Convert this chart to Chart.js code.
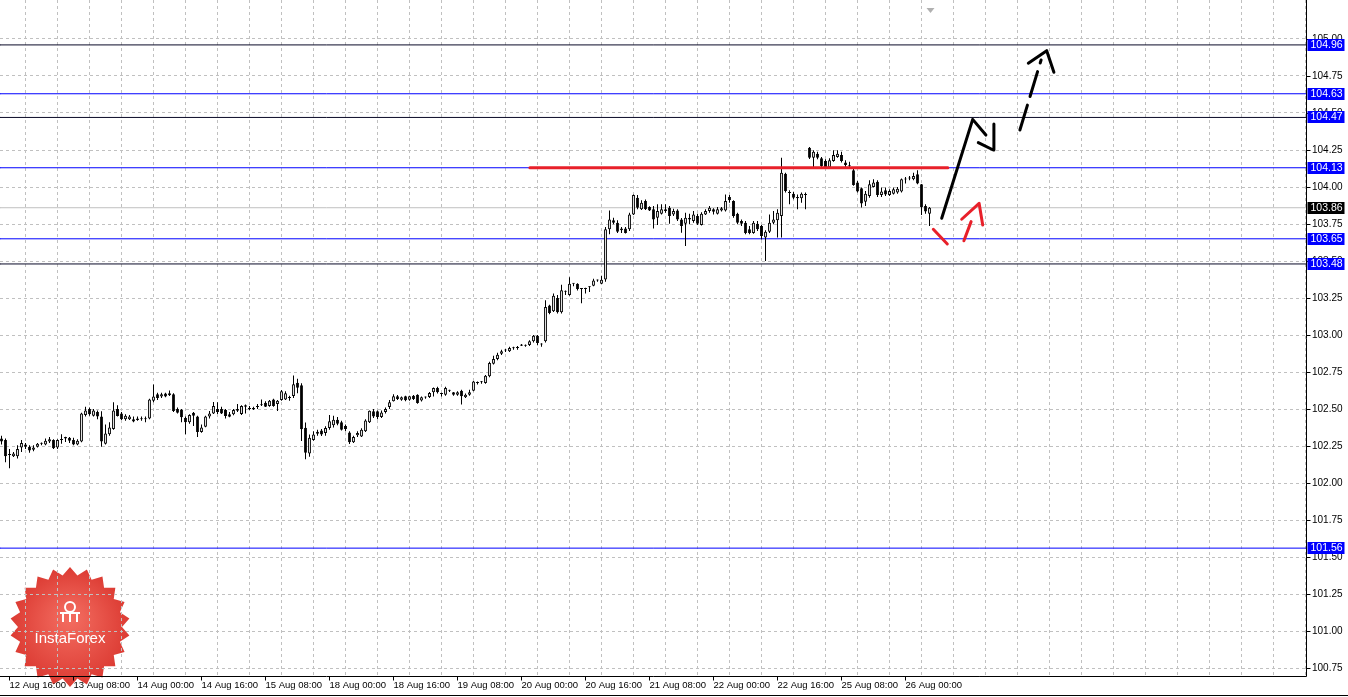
<!DOCTYPE html>
<html>
<head>
<meta charset="utf-8">
<script src="https://cdn.jsdelivr.net/npm/chart.js@4.4.1/dist/chart.umd.min.js"></script>
<style>
  html, body { margin: 0; padding: 0; background: #fff; }
  #wrap { width: 1348px; height: 697px; }
</style>
</head>
<body>
<div id="wrap"><canvas id="chart" width="1348" height="697"></canvas></div>
<script>
// H1 candles, index 0 = 12 Aug 14:00
const opens = [102.30,102.29,102.195,102.18,102.18,102.24,102.26,102.245,102.225,102.245,
102.265,102.26,102.28,102.29,102.24,102.29,102.31,102.305,102.29,102.26,
102.28,102.46,102.50,102.455,102.48,102.45,102.265,102.33,102.365,102.50,
102.47,102.43,102.43,102.43,102.425,102.43,102.43,102.435,102.555,102.60,
102.585,102.605,102.606,102.60,102.50,102.495,102.44,102.41,102.475,102.45,
102.345,102.38,102.45,102.47,102.50,102.50,102.493,102.464,102.464,102.489,
102.466,102.516,102.50,102.50,102.513,102.525,102.543,102.52,102.565,102.534,
102.56,102.565,102.574,102.588,102.678,102.66,102.374,102.20,102.29,102.333,
102.354,102.338,102.372,102.39,102.428,102.41,102.385,102.342,102.275,102.322,
102.315,102.35,102.41,102.484,102.484,102.446,102.48,102.514,102.552,102.586,
102.563,102.586,102.563,102.59,102.597,102.557,102.577,102.581,102.613,102.642,
102.601,102.597,102.624,102.613,102.597,102.624,102.579,102.597,102.624,102.676,
102.68,102.676,102.721,102.806,102.838,102.874,102.895,102.89,102.91,102.912,
102.935,102.928,102.932,102.957,102.995,102.935,102.957,103.20,103.16,103.25,
103.153,103.295,103.27,103.347,103.347,103.311,103.311,103.324,103.333,103.369,
103.347,103.375,103.714,103.775,103.759,103.72,103.72,103.714,103.815,103.928,
103.849,103.905,103.865,103.849,103.793,103.82,103.838,103.86,103.815,103.842,
103.781,103.752,103.78,103.77,103.804,103.743,103.815,103.838,103.849,103.82,
103.842,103.842,103.932,103.905,103.82,103.77,103.759,103.714,103.69,103.752,
103.736,103.658,103.698,103.759,103.775,103.804,104.09,103.962,103.955,103.933,
103.924,103.946,104.266,104.198,104.225,104.194,104.176,104.131,104.176,104.203,
104.216,104.165,104.14,104.113,104.03,103.991,103.901,103.94,104.0,104.036,
103.946,103.978,103.946,103.955,103.962,103.969,104.05,104.058,104.052,104.086,
104.018,103.872,103.82];

const highs = [102.32,102.30,102.23,102.21,102.255,102.29,102.27,102.255,102.255,102.27,
102.273,102.30,102.31,102.295,102.295,102.33,102.313,102.31,102.305,102.295,
102.475,102.515,102.51,102.50,102.49,102.485,102.395,102.41,102.545,102.525,
102.48,102.465,102.46,102.45,102.45,102.45,102.45,102.57,102.665,102.61,
102.61,102.61,102.625,102.606,102.51,102.50,102.45,102.465,102.48,102.455,
102.395,102.455,102.486,102.548,102.545,102.516,102.50,102.48,102.50,102.533,
102.525,102.53,102.52,102.516,102.533,102.565,102.552,102.56,102.57,102.56,
102.628,102.62,102.59,102.727,102.705,102.674,102.408,102.327,102.35,102.36,
102.365,102.383,102.46,102.455,102.446,102.42,102.395,102.35,102.32,102.35,
102.37,102.43,102.49,102.50,102.49,102.49,102.51,102.56,102.60,102.595,
102.585,102.59,102.59,102.595,102.60,102.585,102.585,102.615,102.645,102.65,
102.61,102.65,102.63,102.615,102.62,102.63,102.605,102.63,102.69,102.685,
102.69,102.73,102.82,102.86,102.88,102.90,102.905,102.92,102.92,102.925,
102.94,102.935,102.965,103.00,103.00,102.945,103.235,103.205,103.28,103.27,
103.34,103.30,103.39,103.35,103.35,103.315,103.32,103.33,103.38,103.375,
103.40,103.73,103.842,103.793,103.775,103.73,103.73,103.826,103.95,103.946,
103.91,103.915,103.87,103.872,103.883,103.883,103.883,103.872,103.853,103.85,
103.79,103.826,103.82,103.838,103.82,103.83,103.849,103.872,103.856,103.865,
103.865,103.95,103.946,103.91,103.826,103.781,103.77,103.736,103.77,103.77,
103.743,103.707,103.815,103.838,103.849,104.198,104.097,103.978,103.968,103.95,
103.962,103.962,104.27,104.248,104.239,104.203,104.187,104.194,104.248,104.248,
104.239,104.18,104.171,104.135,104.041,103.996,103.973,104.045,104.052,104.045,
103.996,103.996,103.984,103.996,104.0,104.058,104.068,104.074,104.097,104.113,
104.02,103.883,103.865];

const lows = [102.26,102.14,102.10,102.175,102.165,102.21,102.23,102.205,102.215,102.24,
102.255,102.255,102.27,102.23,102.23,102.265,102.277,102.27,102.255,102.255,
102.275,102.45,102.455,102.45,102.43,102.245,102.26,102.32,102.36,102.45,
102.425,102.42,102.425,102.41,102.42,102.42,102.41,102.43,102.545,102.56,
102.575,102.58,102.588,102.48,102.47,102.41,102.33,102.40,102.385,102.31,
102.34,102.376,102.435,102.466,102.466,102.466,102.435,102.444,102.457,102.48,
102.46,102.47,102.493,102.493,102.50,102.52,102.513,102.516,102.516,102.486,
102.556,102.56,102.555,102.575,102.606,102.284,102.16,102.178,102.286,102.32,
102.318,102.32,102.36,102.375,102.39,102.355,102.35,102.264,102.27,102.311,
102.31,102.345,102.405,102.44,102.43,102.44,102.47,102.50,102.55,102.56,
102.555,102.553,102.555,102.56,102.535,102.55,102.57,102.575,102.585,102.605,
102.585,102.59,102.615,102.59,102.59,102.53,102.575,102.59,102.62,102.665,
102.67,102.67,102.715,102.80,102.83,102.865,102.885,102.885,102.90,102.90,
102.925,102.92,102.925,102.95,102.93,102.92,102.95,103.14,103.155,103.145,
103.145,103.27,103.265,103.33,103.30,103.215,103.28,103.29,103.33,103.36,
103.345,103.36,103.68,103.748,103.69,103.69,103.685,103.703,103.81,103.85,
103.845,103.845,103.838,103.72,103.743,103.815,103.826,103.752,103.804,103.77,
103.691,103.601,103.748,103.759,103.743,103.74,103.81,103.826,103.815,103.815,
103.835,103.835,103.894,103.793,103.748,103.736,103.68,103.68,103.684,103.703,
103.646,103.50,103.69,103.748,103.658,103.658,103.962,103.883,103.917,103.85,
103.894,103.85,104.19,104.135,104.187,104.135,104.131,104.126,104.171,104.198,
104.165,104.131,104.127,104.008,103.962,103.861,103.872,103.928,103.996,103.933,
103.933,103.94,103.94,103.95,103.955,103.962,104.023,104.045,104.045,104.018,
103.811,103.82,103.737];

const closes = [102.28,102.18,102.19,102.20,102.23,102.27,102.245,102.22,102.24,102.265,
102.265,102.285,102.295,102.235,102.29,102.29,102.30,102.285,102.26,102.285,
102.47,102.49,102.465,102.49,102.45,102.28,102.335,102.375,102.49,102.452,
102.43,102.455,102.45,102.415,102.435,102.43,102.43,102.565,102.585,102.575,
102.60,102.585,102.593,102.486,102.475,102.445,102.41,102.46,102.455,102.345,
102.375,102.45,102.47,102.52,102.48,102.47,102.453,102.448,102.493,102.50,
102.52,102.525,102.50,102.50,102.516,102.527,102.516,102.556,102.52,102.556,
102.62,102.606,102.58,102.667,102.644,102.363,102.205,102.306,102.327,102.347,
102.327,102.372,102.417,102.428,102.40,102.36,102.365,102.275,102.31,102.338,
102.36,102.423,102.488,102.45,102.446,102.477,102.50,102.545,102.586,102.568,
102.579,102.559,102.586,102.568,102.541,102.579,102.578,102.608,102.642,102.613,
102.602,102.642,102.625,102.597,102.613,102.586,102.597,102.613,102.685,102.677,
102.681,102.725,102.811,102.838,102.867,102.89,102.896,102.912,102.911,102.913,
102.928,102.929,102.957,102.995,102.946,102.936,103.19,103.149,103.266,103.153,
103.302,103.293,103.347,103.346,103.311,103.31,103.31,103.323,103.369,103.368,
103.374,103.714,103.781,103.759,103.698,103.707,103.69,103.815,103.946,103.86,
103.894,103.849,103.842,103.781,103.838,103.849,103.849,103.804,103.838,103.781,
103.736,103.793,103.79,103.815,103.752,103.82,103.838,103.86,103.833,103.849,
103.856,103.905,103.91,103.804,103.759,103.752,103.69,103.69,103.759,103.714,
103.669,103.698,103.759,103.781,103.826,104.097,103.973,103.96,103.928,103.924,
103.955,103.947,104.198,104.239,104.198,104.142,104.135,104.18,104.216,104.225,
104.176,104.149,104.14,104.014,103.969,103.888,103.955,104.018,104.03,103.946,
103.969,103.95,103.973,103.984,103.989,104.052,104.053,104.06,104.074,104.023,
103.865,103.834,103.86];

// time axis: label every 16 bars starting at bar 2, grid every 8 bars
const timeLabels = ["12 Aug 16:00","13 Aug 08:00","14 Aug 00:00","14 Aug 16:00","15 Aug 08:00",
  "18 Aug 00:00","18 Aug 16:00","19 Aug 08:00","20 Aug 00:00","20 Aug 16:00","21 Aug 08:00",
  "22 Aug 00:00","22 Aug 16:00","25 Aug 08:00","26 Aug 00:00"];
const firstLabelBar = 2;
const barsPerLabel = 16;
const barsPerGrid = 8;
const xMin = -0.375, xMax = 326.125;

const priceTicks = [100.75,101.00,101.25,101.50,101.75,102.00,102.25,102.50,102.75,
  103.00,103.25,103.50,103.75,104.00,104.25,104.50,104.75,105.00];
const yMin = 100.696, yMax = 105.2635;

// horizontal levels
const levelPrices = [104.96, 104.63, 104.47, 104.13, 103.65, 103.48, 101.56];
const levelDark = [true, false, true, false, false, true, false];
const lastPrice = 103.86;
const resistance = { from: 132.1, to: 236.6, price: 104.13 };

// hand-drawn forecast arrows, [bar, price]
const blackUp = [[235.05,103.789],[242.8,104.457],[246.1,104.351]];
const blackUpHead = [[244.2,104.30],[247.95,104.25],[248.1,104.426]];
const blackNext = [[254.6,104.385],[259.9,104.858]];
const blackNextHead = [[256.7,104.836],[261.3,104.921],[263.1,104.775]];
const redDown = [[232.95,103.714],[236.45,103.615]];
const redUp = [[240.6,103.637],[242.4,103.766]];
const redUpHead = [[240.05,103.782],[244.4,103.89],[245.3,103.743]];

const FONT = "'Liberation Sans', Arial, sans-serif";
const BLUE = "#0000ff";

const bodies = opens.map((o, i) => ({ x: i, y: [o, closes[i]] }));
const wicks = lows.map((l, i) => ({ x: i, y: [l, highs[i]] }));
const bodyColors = opens.map((o, i) => closes[i] > o ? "#ffffff" : "#000000");

function pts(arr) { return arr.map(p => ({ x: p[0], y: p[1] })); }
function lineDs(data, color, width, order, dash) {
  return { type: "line", data: data, borderColor: color, borderWidth: width, pointRadius: 0,
    tension: 0, order: order, borderDash: dash || [], borderCapStyle: "round", borderJoinStyle: "round" };
}

const datasets = [];
datasets.push({ type: "bar", data: bodies, grouped: false, maxBarThickness: 3, minBarLength: 1,
  backgroundColor: bodyColors, borderColor: "#000", borderWidth: 1, borderSkipped: false, order: 1 });
datasets.push({ type: "bar", data: wicks, grouped: false, maxBarThickness: 1,
  backgroundColor: "#000", borderWidth: 0, order: 2 });
levelPrices.forEach((p, k) => {
  datasets.push(lineDs([{ x: xMin, y: p }, { x: xMax, y: p }], levelDark[k] ? "#0a0a28" : BLUE, 1, 3));
});
datasets.push(lineDs([{ x: xMin, y: lastPrice }, { x: xMax, y: lastPrice }], "#c0c0c0", 1, 4));
datasets.push(lineDs([{ x: resistance.from, y: resistance.price }, { x: resistance.to, y: resistance.price }], "#e8202a", 3, 0));
datasets.push(lineDs(pts(blackUp), "#000", 3, -1));
datasets.push(lineDs(pts(blackUpHead), "#000", 3, -1));
datasets.push(lineDs(pts(blackNext), "#000", 3, -1, [26, 9]));
datasets.push(lineDs(pts(blackNextHead), "#000", 3, -1));
datasets.push(lineDs(pts(redDown), "#e8202a", 3, -1));
datasets.push(lineDs(pts(redUp), "#e8202a", 3, -1));
datasets.push(lineDs(pts(redUpHead), "#e8202a", 3, -1));

function drawLogo(ctx) {
  const cx = 70, cy = 627, n = 22, R = 60, r = 52;
  ctx.save();
  ctx.beginPath();
  for (let k = 0; k < n * 2; k++) {
    const a = -Math.PI / 2 + k * Math.PI / n;
    const rad = k % 2 === 0 ? R : r;
    const px = cx + rad * Math.cos(a), py = cy + rad * Math.sin(a);
    if (k === 0) ctx.moveTo(px, py); else ctx.lineTo(px, py);
  }
  ctx.closePath();
  const g = ctx.createRadialGradient(cx, cy - 10, 5, cx, cy, R);
  g.addColorStop(0, "#f26a5e");
  g.addColorStop(1, "#dc3b33");
  ctx.fillStyle = g;
  ctx.fill();
  ctx.fillStyle = "#fff";
  ctx.font = "15px " + FONT;
  ctx.textAlign = "center";
  ctx.textBaseline = "middle";
  ctx.fillText("InstaForex", cx, cy + 12);
  ctx.strokeStyle = "#fff";
  ctx.lineWidth = 2;
  ctx.beginPath(); ctx.arc(cx, cy - 20, 5, 0, Math.PI * 2); ctx.stroke();
  ctx.beginPath();
  ctx.moveTo(cx - 7, cy - 14); ctx.lineTo(cx - 7, cy - 5);
  ctx.moveTo(cx, cy - 15); ctx.lineTo(cx, cy - 5);
  ctx.moveTo(cx + 7, cy - 14); ctx.lineTo(cx + 7, cy - 5);
  ctx.moveTo(cx - 10, cy - 14); ctx.lineTo(cx + 10, cy - 14);
  ctx.stroke();
  ctx.restore();
}

function noPad(s) { s.paddingTop = 0; s.paddingBottom = 0; s.paddingLeft = 0; s.paddingRight = 0; }

const terminalLook = {
  id: "terminalLook",
  beforeDraw(chart) {
    const ctx = chart.ctx;
    ctx.save();
    ctx.fillStyle = "#fff";
    ctx.fillRect(0, 0, chart.width, chart.height);
    ctx.restore();
    drawLogo(ctx);
  },
  afterDraw(chart) {
    const { ctx, chartArea, scales } = chart;
    const xs = scales.x, ys = scales.y;
    const right = Math.round(chartArea.right) + 0.5;
    const bottom = Math.round(chartArea.bottom) + 0.5;
    ctx.save();
    ctx.strokeStyle = "#000";
    ctx.lineWidth = 1;
    ctx.beginPath();
    ctx.moveTo(right, chartArea.top); ctx.lineTo(right, bottom);
    ctx.moveTo(0, bottom); ctx.lineTo(right, bottom);
    priceTicks.forEach(v => {
      const y = Math.round(ys.getPixelForValue(v)) + 0.5;
      ctx.moveTo(right, y); ctx.lineTo(right + 4, y);
    });
    timeLabels.forEach((t, k) => {
      const x = Math.round(xs.getPixelForValue(firstLabelBar + k * barsPerLabel)) - 0.5;
      ctx.moveTo(x, bottom); ctx.lineTo(x, bottom + 4);
    });
    ctx.moveTo(0, 695.5); ctx.lineTo(chart.width, 695.5);
    ctx.stroke();

    // price labels on the axis
    ctx.font = "10.5px " + FONT;
    ctx.textBaseline = "middle";
    ctx.textAlign = "left";
    const tag = (p, bg) => {
      const y = Math.round(ys.getPixelForValue(p));
      ctx.fillStyle = bg;
      ctx.fillRect(right + 1, y - 6, 37, 12);
      ctx.fillStyle = "#fff";
      ctx.fillText(p.toFixed(2), right + 4, y + 0.5);
    };
    levelPrices.forEach(p => tag(p, BLUE));
    tag(lastPrice, "#000");

    // chart shift marker
    const sx = Math.round(xs.getPixelForValue(opens.length - 1)) + 0.5;
    ctx.fillStyle = "#b0b0b0";
    ctx.beginPath();
    ctx.moveTo(sx - 4, 8); ctx.lineTo(sx + 4, 8); ctx.lineTo(sx, 13); ctx.closePath();
    ctx.fill();
    ctx.restore();
  }
};

new Chart(document.getElementById("chart"), {
  type: "bar",
  data: { datasets: datasets },
  options: {
    responsive: false,
    animation: false,
    devicePixelRatio: 1,
    layout: { padding: 0, autoPadding: false },
    plugins: { legend: { display: false }, tooltip: { enabled: false } },
    scales: {
      x: {
        type: "linear",
        min: xMin,
        max: xMax,
        offset: false,
        afterBuildTicks: s => {
          const t = [];
          for (let i = firstLabelBar; i <= xMax; i += barsPerGrid) t.push({ value: i });
          s.ticks = t;
        },
        afterFit: s => { s.height = 21; noPad(s); },
        grid: { color: "#c0c0c0", drawTicks: false },
        border: { display: false, dash: [3, 3] },
        ticks: {
          autoSkip: false, maxRotation: 0, align: "start", padding: 4,
          color: "#000", font: { family: FONT, size: 9.5 },
          callback: v => {
            const k = (v - firstLabelBar) / barsPerLabel;
            return Number.isInteger(k) && k < timeLabels.length ? timeLabels[k] : "";
          }
        }
      },
      y: {
        type: "linear",
        position: "right",
        min: yMin,
        max: yMax,
        afterBuildTicks: s => { s.ticks = priceTicks.map(v => ({ value: v })); },
        afterFit: s => { s.width = 42; noPad(s); },
        grid: { color: "#c0c0c0", drawTicks: false },
        border: { display: false, dash: [3, 3] },
        ticks: {
          padding: 6, color: "#000", font: { family: FONT, size: 10 },
          callback: v => v.toFixed(2)
        }
      }
    }
  },
  plugins: [terminalLook]
});
</script>
</body>
</html>
